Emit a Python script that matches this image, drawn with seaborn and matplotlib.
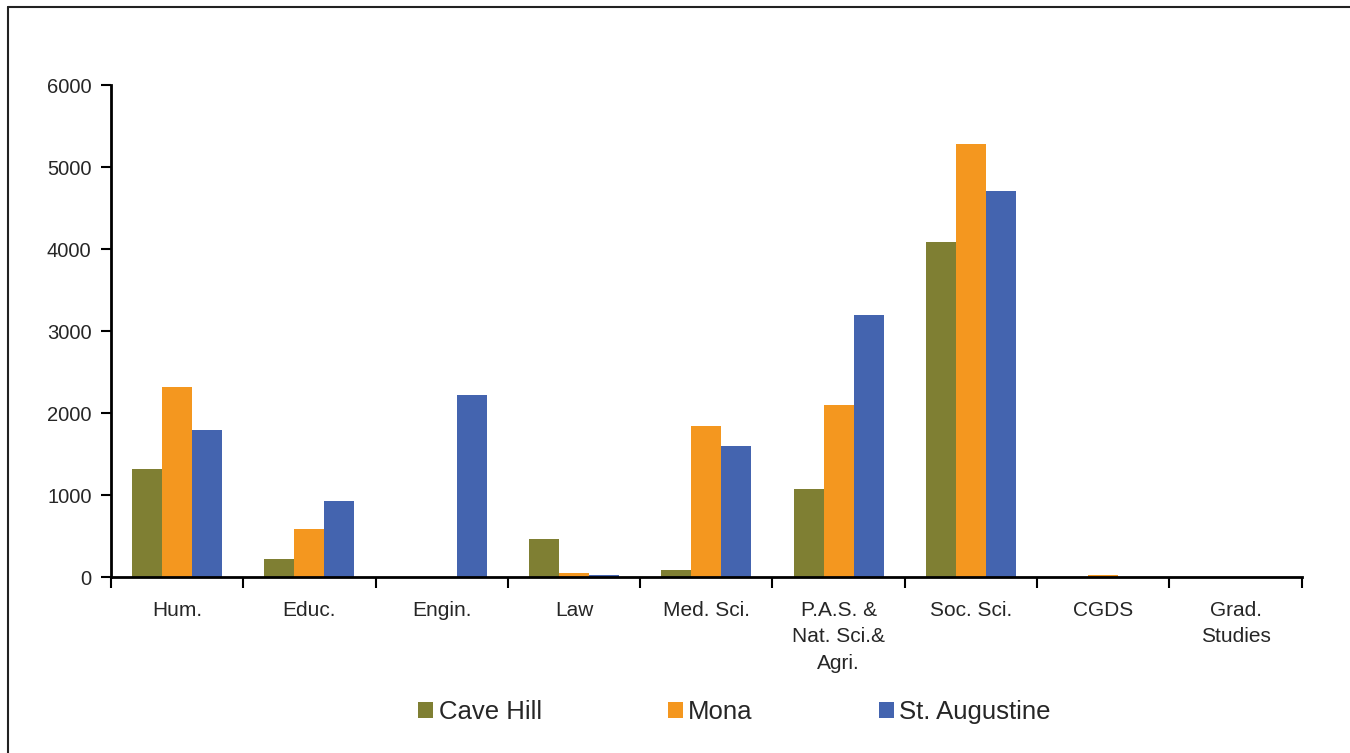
import matplotlib.pyplot as plt
import matplotlib.lines as mlines
import seaborn as sns
import pandas as pd
import numpy as np

# ============================================ #
# DATA
# ============================================ #
faculties = ['Hum.', 'Educ.', 'Engin.', 'Law', 'Med. Sci.',
             'P.A.S. &\nNat. Sci.&\nAgri.', 'Soc. Sci.', 'CGDS', 'Grad.\nStudies']
campuses = ['Cave Hill', 'Mona', 'St. Augustine']
cave_hill = [1320, 225, 0, 465, 80, 1075, 4085, 0, 0]
mona = [2320, 580, 0, 55, 1840, 2100, 5280, 20, 0]
st_augustine = [1795, 930, 2220, 30, 1600, 3195, 4705, 0, 0]
colors = ['#7F7F33', '#F4971F', '#4464AF']

df = pd.DataFrame({'faculty': faculties * 3,
                   'campus': np.repeat(campuses, len(faculties)),
                   'students': cave_hill + mona + st_augustine})

# ============================================ #
# PLOT
# ============================================ #
sns.set_style('white')
plt.rcParams['font.family'] = ['Liberation Sans', 'DejaVu Sans']

fig = plt.figure(figsize=(13.5, 7.53), dpi=100)
ax = fig.add_axes([0.0822, 0.2337, 0.882, 0.6533])

sns.barplot(data=df, x='faculty', y='students', hue='campus',
            palette=colors, width=0.68, saturation=1, ax=ax,
            errorbar=None, linewidth=0)

ax.set(xlim=[-0.5, len(faculties) - 0.5], ylim=[0, 6000],
       xlabel='', ylabel='')
ax.set_yticks(np.arange(0, 6001, 1000))
ax.tick_params(axis='y', labelsize=14.5, length=7, width=1.5,
               direction='out', color='black', left=True, pad=7)
ax.tick_params(axis='x', which='major', labelsize=15, length=0, pad=17)
ax.set_xticks(np.arange(-0.5, len(faculties)), minor=True)
ax.tick_params(axis='x', which='minor', length=8, width=1.5,
               direction='out', color='black', bottom=True)
for lab in ax.get_xticklabels():
    lab.set_verticalalignment('top')
    lab.set_multialignment('center')
    lab.set_linespacing(1.5)

sns.despine(ax=ax)
for side in ['left', 'bottom']:
    ax.spines[side].set_color('black')
    ax.spines[side].set_linewidth(2)

leg = ax.legend(loc='center', bbox_to_anchor=(0.5235, -0.274), ncol=3,
                frameon=False, fontsize=18.5, handlelength=0.6,
                handleheight=0.6, handletextpad=0.2, columnspacing=4.9)

# outer frame (left and top edge only)
fig.add_artist(mlines.Line2D([8 / 1350, 8 / 1350], [0, 1 - 7 / 753],
                             color='#222222', lw=1.5, transform=fig.transFigure))
fig.add_artist(mlines.Line2D([8 / 1350, 1], [1 - 7 / 753, 1 - 7 / 753],
                             color='#222222', lw=1.5, transform=fig.transFigure))

fig.savefig('out.png', dpi=100, facecolor='white')
